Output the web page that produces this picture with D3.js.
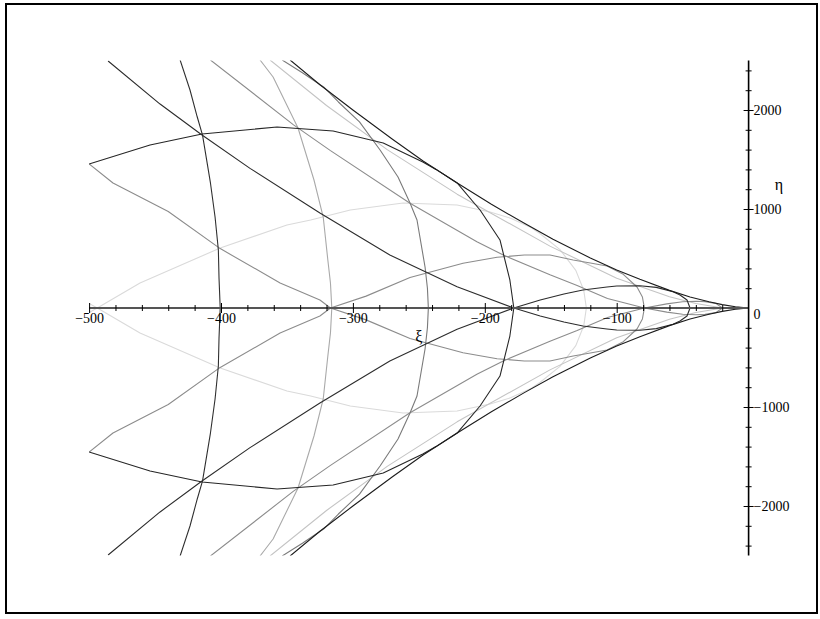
<!DOCTYPE html>
<html>
<head>
<meta charset="utf-8">
<script src="https://cdn.jsdelivr.net/npm/d3@7"></script>
<style>
  html, body { margin: 0; padding: 0; background: #fff; }
  svg { display: block; }
  text { font-family: "Liberation Serif", "Times New Roman", serif; fill: #000; }
</style>
</head>
<body>
<script>
// Plot window
const xDomain = [-500, 0];
const yDomain = [-2500, 2500];

// Tick values and their labels
const xMajorTicks = [-500, -400, -300, -200, -100];
const xMajorLabels = ["\u2212500", "\u2212400", "\u2212300", "\u2212200", "\u2212100"];
const xMinorTicks = [-480, -460, -440, -420, -380, -360, -340, -320, -280, -260, -240, -220,
                     -180, -160, -140, -120, -80, -60, -40, -20];
const yMajorTicks = [2000, 1000, -1000, -2000];
const yMajorLabels = ["2000", "1000", "\u22121000", "\u22122000"];
const yMinorTicks = [2400, 2200, 1800, 1600, 1400, 1200, 800, 600, 400, 200,
                     -200, -400, -600, -800, -1200, -1400, -1600, -1800, -2200, -2400];

// Fold envelope (upper branch, from the cusp outwards); the lower branch is its mirror
const envelope = [[0, 0], [-10, 12], [-20, 34], [-30, 63], [-44.4, 112], [-60, 178],
  [-82.4, 290], [-100, 385], [-120, 505], [-148.3, 695], [-170, 855], [-195, 1048],
  [-220, 1255], [-246.8, 1485], [-270, 1705], [-300, 2000], [-325, 2255], [-347.6, 2505]];

// Grid curves: each list starts where the curve crosses the axis vertically and
// runs upward, over the arch and on; the other half is the mirror image in η.
const curve9 = [[-400.6, 0], [-401.5, 300], [-402, 586], [-404.5, 919], [-408, 1263],
  [-414, 1747], [-418, 1929], [-423.5, 2202], [-431, 2505]];
const curve8 = [[-316, 0], [-317, 250], [-319, 485], [-322.5, 919], [-329.5, 1293],
  [-341.6, 1818], [-360.5, 2333], [-370.4, 2505]];
const curve7 = [[-242.8, 0], [-243.5, 200], [-245.3, 414], [-251.4, 889], [-256.7, 1061],
  [-265.8, 1323], [-279.4, 1596], [-295, 1880], [-311, 2081], [-322, 2230], [-338, 2374],
  [-353.6, 2505]];
const curve6 = [[-178, 0], [-181, 283], [-188.5, 687], [-203.6, 990], [-221, 1263],
  [-237, 1400], [-247, 1475], [-277, 1667], [-315, 1788], [-357.5, 1828], [-414.4, 1758],
  [-453.8, 1646], [-500, 1455]];
const curve5 = [[-123, 0], [-125, 180], [-131, 380], [-143, 590], [-158, 750], [-165, 813],
  [-180, 905], [-196, 970], [-221, 1040], [-262, 1061], [-302, 990], [-332, 889],
  [-350, 838], [-400.6, 606], [-461.4, 253], [-493.8, 0], [-500, -45]];
const curve4 = [[-79, 0], [-80.5, 110], [-84.6, 212], [-95, 340], [-107.4, 425],
  [-120, 455], [-133, 485], [-150.6, 535], [-170, 535], [-190.7, 512], [-216.5, 452],
  [-256.7, 308], [-290, 120], [-317, 0], [-325, -81], [-355.2, -253], [-400.6, -600],
  [-440, -975], [-481.9, -1263], [-500, -1455]];
const curve3 = [[-44.4, 0], [-46.7, 81], [-52, 132], [-57.3, 165], [-70, 208], [-82.4, 224],
  [-100, 222], [-107.4, 212], [-125.6, 182], [-140, 142], [-158, 81], [-178, 0],
  [-221, -215], [-272, -535], [-325, -960], [-378, -1410], [-414.4, -1748],
  [-446.2, -2060], [-485.6, -2495]];
const curve2 = [[-19.75, 0], [-25, 47], [-33, 64], [-40, 68], [-50, 63], [-62, 42],
  [-79, 0], [-107, -96], [-130, -228], [-150.6, -335], [-186, -535], [-206, -670],
  [-257, -1061], [-317, -1590], [-345, -1850], [-408, -2505]];
const curve1 = [[-4.94, 0], [-7, 7], [-12, 7], [-19.75, 0], [-40, -46], [-60, -114],
  [-100, -301], [-150.6, -625], [-221, -1150], [-274, -1600], [-320, -2045], [-362.8, -2505]];

const curves = [
  { pts: curve5, color: "#dadada" },
  { pts: curve1, color: "#c4c4c4" },
  { pts: curve8, color: "#a9a9a9" },
  { pts: curve2, color: "#8c8c8c" },
  { pts: curve4, color: "#8c8c8c" },
  { pts: curve7, color: "#7a7a7a" },
  { pts: curve9, color: "#303030" },
  { pts: curve6, color: "#262626" },
  { pts: curve3, color: "#2c2c2c" }
];

const W = 820, H = 619;
const x = d3.scaleLinear().domain(xDomain).range([89.1, 748.6]);
const y = d3.scaleLinear().domain(yDomain).range([555.5, 60.5]);

const svg = d3.select("body").append("svg").attr("width", W).attr("height", H);

// outer frame
svg.append("rect").attr("x", 6).attr("y", 4).attr("width", 811).attr("height", 609)
  .attr("fill", "none").attr("stroke", "#000").attr("stroke-width", 2);

svg.append("clipPath").attr("id", "plotClip").append("rect")
  .attr("x", x(-500)).attr("y", y(2500))
  .attr("width", x(0) - x(-500)).attr("height", y(-2500) - y(2500));

// whole curve = mirrored half (reversed) followed by the half itself
const mirrorJoin = pts => pts.slice().reverse().map(([a, b]) => [a, -b]).concat(pts.slice(1));

const line = d3.line().x(d => x(d[0])).y(d => y(d[1]));
const plot = svg.append("g").attr("clip-path", "url(#plotClip)");

curves.forEach(c => {
  plot.append("path").attr("d", line(mirrorJoin(c.pts)))
    .attr("fill", "none").attr("stroke", c.color).attr("stroke-width", 1.1)
    .attr("stroke-linejoin", "round");
});
plot.append("path").attr("d", line(mirrorJoin(envelope)))
  .attr("fill", "none").attr("stroke", "#1c1c1c").attr("stroke-width", 1.1)
  .attr("stroke-linejoin", "round");

// horizontal axis
const y0 = y(0), x0 = x(0);
svg.append("line").attr("x1", x(-500)).attr("x2", x0).attr("y1", y0).attr("y2", y0)
  .attr("stroke", "#555").attr("stroke-width", 2);
const xMinor = svg.append("g").attr("transform", `translate(0,${y0 - 3})`)
  .call(d3.axisBottom(x).tickValues(xMinorTicks).tickSize(6).tickFormat(""));
const xMajor = svg.append("g").attr("transform", `translate(0,${y0 - 5})`)
  .call(d3.axisBottom(x).tickValues(xMajorTicks).tickSize(10).tickPadding(0)
    .tickFormat((d, i) => xMajorLabels[i]));
[xMinor, xMajor].forEach(g => {
  g.select(".domain").remove();
  g.selectAll(".tick line").attr("stroke", "#000").attr("stroke-width", 1);
});
xMajor.selectAll(".tick text").attr("font-size", 14)
  .attr("font-family", "Liberation Serif, serif").attr("fill", "#000");

// vertical axis
svg.append("line").attr("x1", x0).attr("x2", x0).attr("y1", y(2500)).attr("y2", y(-2500))
  .attr("stroke", "#000").attr("stroke-width", 1.6);
const yMinor = svg.append("g").attr("transform", `translate(${x0 - 3},0)`)
  .call(d3.axisRight(y).tickValues(yMinorTicks).tickSize(6).tickFormat(""));
const yMajor = svg.append("g").attr("transform", `translate(${x0 - 5},0)`)
  .call(d3.axisRight(y).tickValues(yMajorTicks).tickSize(10).tickPadding(0)
    .tickFormat((d, i) => yMajorLabels[i]));
[yMinor, yMajor].forEach(g => {
  g.select(".domain").remove();
  g.selectAll(".tick line").attr("stroke", "#000").attr("stroke-width", 1);
});
yMajor.selectAll(".tick text").attr("font-size", 14)
  .attr("font-family", "Liberation Serif, serif").attr("fill", "#000");

// origin label
svg.append("text").attr("x", x0 + 5).attr("y", y0 + 11).attr("font-size", 14).text("0");

// axis titles
svg.append("text").attr("x", x(-250)).attr("y", 342).attr("text-anchor", "middle")
  .attr("font-size", 16).text("ξ");
svg.append("text").attr("x", 779).attr("y", 190).attr("text-anchor", "middle")
  .attr("font-size", 16).text("η");
</script>
</body>
</html>
